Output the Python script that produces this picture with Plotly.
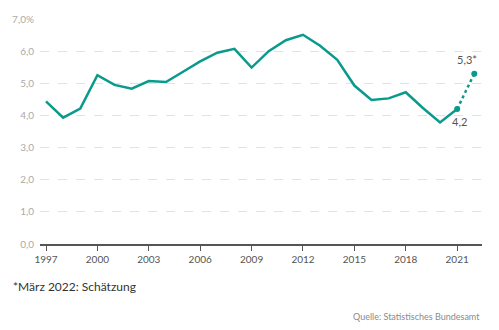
import plotly.graph_objects as go

# Jahreswerte 1997-2021 und Schätzung für 2022
years = list(range(1997, 2022))
values = [4.44, 3.93, 4.21, 5.25, 4.95, 4.83, 5.07, 5.04, 5.36, 5.68,
          5.95, 6.07, 5.49, 6.00, 6.34, 6.51, 6.17, 5.73, 4.93, 4.48,
          4.53, 4.72, 4.23, 3.78, 4.20]
est_years = [2021, 2022]
est_values = [4.2, 5.3]

y_ticks = [0, 1, 2, 3, 4, 5, 6, 7]
y_tick_text = ["0,0", "1,0", "2,0", "3,0", "4,0", "5,0", "6,0", "7,0%"]
x_ticks = [1997, 2000, 2003, 2006, 2009, 2012, 2015, 2018, 2021]

teal = "#0a9a8c"

fig = go.Figure()
fig.add_trace(go.Scatter(
    x=years, y=values, mode="lines",
    line=dict(color=teal, width=2.5), hoverinfo="skip", showlegend=False))
fig.add_trace(go.Scatter(
    x=est_years, y=est_values, mode="lines+markers",
    line=dict(color=teal, width=2.5, dash="dot"),
    marker=dict(color=teal, size=6), hoverinfo="skip", showlegend=False))

fig.add_annotation(x=est_years[0], y=est_values[0], text="4,2",
                   showarrow=False, xshift=2, yshift=-12,
                   font=dict(family="Lato", size=11, color="#555555"))
fig.add_annotation(x=est_years[1], y=est_values[1], text="5,3*",
                   showarrow=False, xshift=-7, yshift=14,
                   font=dict(family="Lato", size=11, color="#555555"))

fig.add_annotation(xref="paper", yref="paper", x=-0.065, y=-0.19,
                   xanchor="left", yanchor="middle", showarrow=False,
                   text="*März 2022: Schätzung",
                   font=dict(family="Lato", size=12, color="#333333"))
fig.add_annotation(xref="paper", yref="paper", x=1.0, y=-0.32,
                   xanchor="right", yanchor="middle", showarrow=False,
                   text="Quelle: Statistisches Bundesamt",
                   font=dict(family="Lato", size=9, color="#8a8a8a"))

fig.update_layout(
    width=499, height=330,
    margin=dict(l=40, r=17, t=16, b=86),
    paper_bgcolor="white", plot_bgcolor="white",
    font=dict(family="Lato"),
    xaxis=dict(
        range=[1996.65, 2022.45], tickvals=x_ticks,
        ticks="outside", ticklen=5, tickcolor="#555555", tickwidth=1,
        showgrid=False, zeroline=False,
        showline=True, linecolor="#555555", linewidth=1.5,
        tickfont=dict(family="Lato", size=10, color="#555555")),
    yaxis=dict(
        range=[0, 7], tickvals=y_ticks, ticktext=y_tick_text,
        showgrid=True, gridcolor="#e2e2e2", griddash="dash", gridwidth=1,
        zeroline=False, ticks="", ticklabelstandoff=5,
        tickfont=dict(family="Lato", size=10, color="#aaaaaa")),
)

fig.write_html("out.html")
